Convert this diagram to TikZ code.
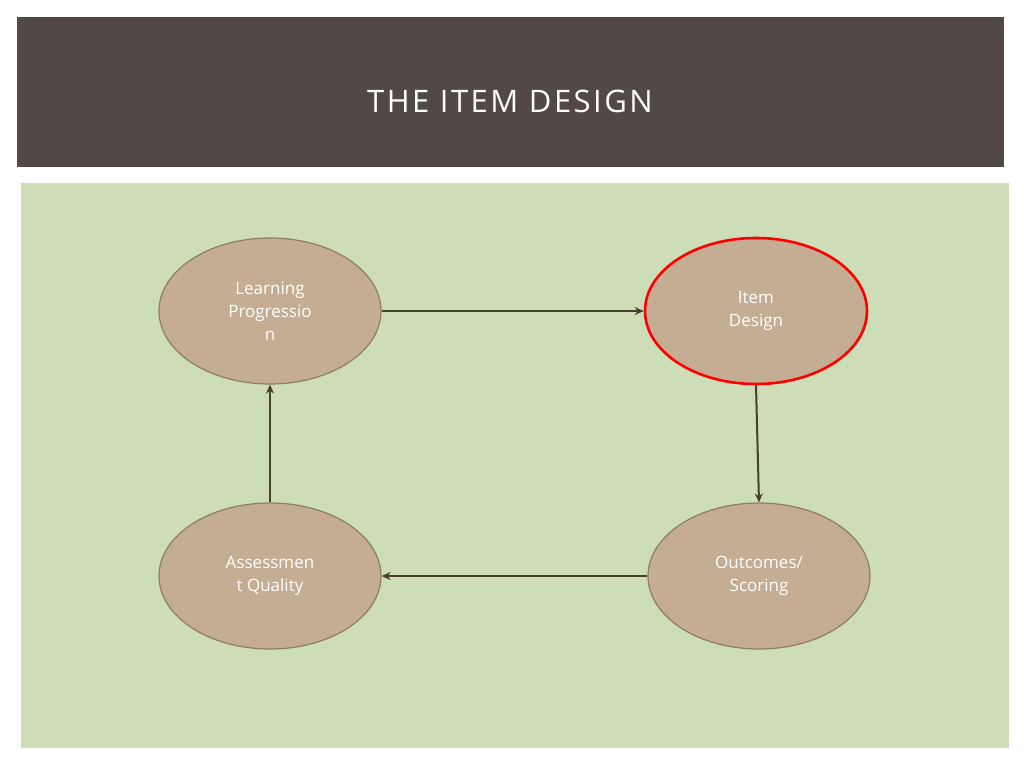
\documentclass[tikz,border=0pt]{standalone}
\usepackage{fontspec}
\setmainfont{Open Sans}
\usetikzlibrary{arrows.meta}
\definecolor{titlebg}{HTML}{524847}
\definecolor{greenbg}{HTML}{CCDDB8}
\definecolor{nodefill}{HTML}{C4AD93}
\definecolor{nodeline}{HTML}{8F7D63}
\definecolor{arrowc}{HTML}{4A3F2A}
\begin{document}
\begin{tikzpicture}[x=1pt,y=-1pt,
  blob/.style={ellipse,minimum width=222pt,minimum height=146pt,fill=nodefill,draw=nodeline,line width=1.2pt,align=center,font=\fontsize{17}{23}\selectfont,text=white,inner sep=0pt},
  conn/.style={draw=arrowc,line width=2pt,-{Stealth[length=9pt,width=8pt,inset=3pt]}}]
\useasboundingbox (0,0) rectangle (1024,768);
\fill[white] (0,0) rectangle (1024,768);
\fill[titlebg] (17,17) rectangle (1004,167);
\node[text=white,font=\fontsize{31}{36}\selectfont] (title) at (510,101) {\addfontfeature{LetterSpace=8}THE ITEM DESIGN};
\fill[greenbg] (21,183) rectangle (1009,748);
\usetikzlibrary{shapes.geometric}
\node[blob] (lp) at (270,311) {Learning\\Progressio\\n};
\node[blob,draw=red,line width=2.6pt] (id) at (756,311) {Item\\Design};
\node[blob] (aq) at (270,576) {Assessmen\\t Quality};
\node[blob] (os) at (759,576) {Outcomes/\\Scoring};
\draw[conn] (lp.east) -- (id.west);
\draw[conn] (id.south) -- (os.north);
\draw[conn] (os.west) -- (aq.east);
\draw[conn] (aq.north) -- (lp.south);
\end{tikzpicture}
\end{document}
